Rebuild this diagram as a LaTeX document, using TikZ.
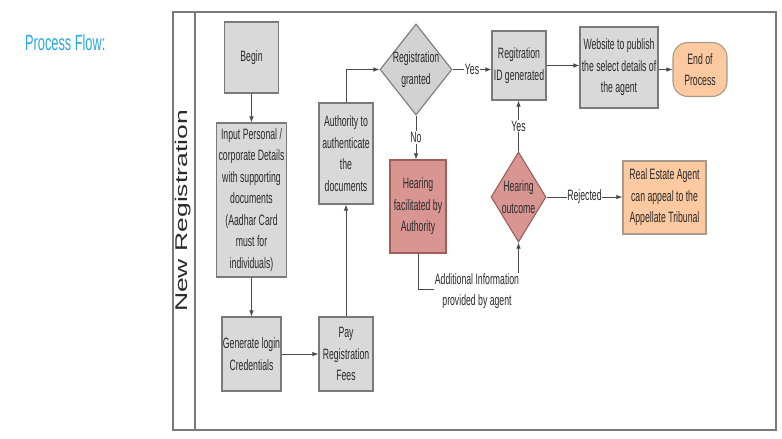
\documentclass[tikz,border=0pt]{standalone}
\usepackage{fontspec}
\setmainfont{Liberation Sans}
\newfontfamily\nfont[FakeStretch=0.58]{Liberation Sans}
\usetikzlibrary{shapes.geometric,arrows.meta}
\definecolor{txt}{HTML}{2A2A2A}
\definecolor{gfill}{HTML}{D9D9D9}
\definecolor{dfill}{HTML}{D2D2D2}
\definecolor{gline}{HTML}{7A7A7A}
\definecolor{rfill}{HTML}{D99592}
\definecolor{rline}{HTML}{9E5E5A}
\definecolor{ofill}{HTML}{FCC9A0}
\definecolor{oline}{HTML}{A89A8C}
\definecolor{cline}{HTML}{4A4A4A}
\definecolor{pf}{HTML}{2AA8E0}
\tikzset{
  tfont/.style={font=\nfont\fontsize{15}{21.5}\selectfont, text=txt, align=center},
  gbox/.style={tfont, draw=gline, fill=gfill, line width=1.1pt, inner sep=0pt, rectangle},
  rbox/.style={tfont, draw=rline, fill=rfill, line width=1.1pt, inner sep=0pt, rectangle},
  obox/.style={tfont, draw=oline, fill=ofill, line width=1.1pt, inner sep=0pt, rectangle},
  dia/.style={diamond, draw=gline, line width=1.1pt, inner sep=0pt},
  conn/.style={draw=cline, line width=0.9pt},
  arr/.style={conn, -{Latex[length=6pt,width=4.5pt]}},
  lbl/.style={tfont, fill=white, inner sep=0.8pt},
}
\begin{document}
\begin{tikzpicture}[x=1pt,y=-1pt]
\useasboundingbox (0,0) rectangle (782,439);
\fill[white] (0,0) rectangle (782,439);

% title
\node[anchor=west, font=\nfont\fontsize{22}{22}\selectfont, text=pf, inner sep=0pt] (title) at (25,43) {Process Flow:};

% swimlane frame
\draw[gline, line width=1.3pt] (173,12) rectangle (776,430);
\draw[gline, line width=1.1pt] (195,12) -- (195,430);
\node[rotate=90, text=txt, inner sep=0pt] (lane) at (183.5,211)
  {\scalebox{1}[0.64]{\fontsize{26.5}{26.5}\selectfont New Registration}};

% nodes
\node[gbox, minimum width=54pt, minimum height=71pt] (begin) at (251.5,57.5) {Begin};
\node[gbox, minimum width=70pt, minimum height=154pt] (input) at (251.5,200)
  {Input Personal /\\corporate Details\\with supporting\\documents\\(Aadhar Card\\must for\\individuals)};
\node[gbox, minimum width=59pt, minimum height=74pt] (gen) at (251.5,354) {Generate login\\Credentials};
\node[gbox, minimum width=54pt, minimum height=74pt] (pay) at (346,354) {Pay\\Registration\\Fees};
\node[gbox, minimum width=54pt, minimum height=101pt] (auth) at (346,153.5)
  {Authority to\\authenticate\\the\\documents};
\node[dia, fill=dfill, minimum width=72pt, minimum height=91pt,
  label={[tfont]center:Registration\\granted}] (regd) at (416,69.5) {};
\node[gbox, minimum width=54pt, minimum height=69pt] (regid) at (519,65.5) {Regitration\\ID generated};
\node[gbox, minimum width=78pt, minimum height=81pt] (web) at (619,67.5)
  {Website to publish\\the select details of\\the agent};
\node[obox, rounded corners=15pt, minimum width=54pt, minimum height=54pt] (end) at (700,69.5) {End of\\Process};
\node[rbox, minimum width=56pt, minimum height=93pt] (hear) at (418,206.5)
  {Hearing\\facilitated by\\Authority};
\node[dia, draw=rline, fill=rfill, minimum width=55pt, minimum height=90pt,
  label={[tfont]center:Hearing\\outcome}] (hout) at (518.5,197) {};
\node[obox, minimum width=83pt, minimum height=73pt] (real) at (664.5,197.5)
  {Real Estate Agent\\can appeal to the\\Appellate Tribunal};
\coordinate (k) at (518.5,289);

% connectors
\draw[arr] (begin.south) -- (input.north);
\draw[arr] (input.south) -- (gen.north);
\draw[arr] (gen.east) -- (pay.west);
\draw[arr] (pay.north) -- (auth.south);
\draw[arr] (auth.north) |- (regd.west);
\draw[arr] (regd.east) -- node[lbl] (yes1) {Yes} (regd.east -| regid.west);
\draw[arr] (regid.east) -- (regid.east -| web.west);
\draw[arr] (web.east |- end.west) -- (end.west);
\draw[arr] (regd.south) -- node[lbl] (no1) {No} (regd.south |- hear.north);
\draw[arr] (hout.north) -- node[lbl] (yes2) {Yes} (hout.north |- regid.south);
\draw[arr] (hout.east) -- node[lbl] (rej) {Rejected} (hout.east -| real.west);
\draw[arr] (hear.south) |- (k) -- (hout.south);
\node[lbl, inner sep=0.5pt] (addl) at (477,291) {Additional Information\\provided by agent};
\end{tikzpicture}
\end{document}
